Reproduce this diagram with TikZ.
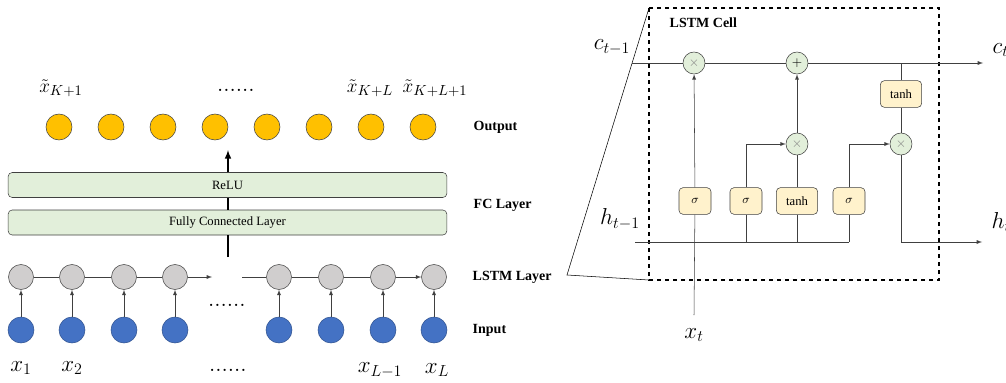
\documentclass[tikz,border=0pt]{standalone}
\usepackage{fontspec}
\setmainfont{Liberation Serif}
\usetikzlibrary{positioning}
\definecolor{outyellow}{HTML}{FFC000}
\definecolor{inblue}{HTML}{4472C4}
\definecolor{inblueline}{HTML}{2F528F}
\definecolor{cellgray}{HTML}{D0CECE}
\definecolor{fcgreen}{HTML}{E2EFDA}
\definecolor{gatecream}{HTML}{FFF2CC}
\definecolor{wire}{HTML}{404040}
\tikzset{
  outnode/.style={circle,minimum size=19.5pt,inner sep=0pt,draw=wire,fill=outyellow},
  lstmnode/.style={circle,minimum size=18.75pt,inner sep=0pt,draw=wire,fill=cellgray},
  innode/.style={circle,minimum size=19.5pt,inner sep=0pt,draw=inblueline,fill=inblue},
  layerbox/.style={minimum width=329pt,minimum height=18.75pt,rounded corners=3pt,draw=wire,fill=fcgreen,font=\fontsize{9.5}{11}\selectfont},
  gatebox/.style={minimum width=24pt,minimum height=20pt,inner sep=1pt,rounded corners=3pt,draw=wire,fill=gatecream,font=\fontsize{9.5}{11}\selectfont},
  opnode/.style={circle,minimum size=16.5pt,inner sep=0pt,draw=wire,fill=fcgreen},
  rowlabel/.style={anchor=west,font=\bfseries\fontsize{10.5}{12}\selectfont},
  mathlabel/.style={font=\fontsize{17}{20}\selectfont},
  toplabel/.style={inner sep=0pt,font=\fontsize{15}{18}\selectfont},
}
\begin{document}
\begin{tikzpicture}[x=0.75pt,y=-0.75pt]
\useasboundingbox (0,0) rectangle (1006,382);
% left: stacked network
\foreach \i/\x in {1/59,2/111,3/163,4/215,5/267,6/319,7/371,8/423}
  \node (out\i) at (\x,127) [outnode] {};
\foreach \i/\x in {1/21,2/72,3/124,4/175,5/279,6/331,7/383,8/434} {
  \node (ls\i) at (\x,277) [lstmnode] {};
  \node (in\i) at (\x,330) [innode] {};
  \draw[-latex,wire] (in\i) -- (ls\i);
}
\node (relu) at (227.5,185) [layerbox] {ReLU};
\node (fc) at (227.5,222.5) [layerbox] {Fully Connected Layer};
\node (tx1) at (61,88) [toplabel] {$\tilde{x}_{K+1}$};
\node (tdots) at (236,90) [mathlabel] {$......$};
\node (tx2) at (370,88) [toplabel] {$\tilde{x}_{K+L}$};
\node (tx3) at (435,88) [toplabel] {$\tilde{x}_{K+L+1}$};
\node (lx1) at (21,368) [mathlabel] {$x_1$};
\node (lx2) at (72,368) [mathlabel] {$x_2$};
\node (ldots) at (228,370) [mathlabel] {$......$};
\node (lx3) at (380,370) [mathlabel] {$x_{L-1}$};
\node (lx4) at (437,370) [mathlabel] {$x_L$};
\node (mdots) at (227,305) [mathlabel] {$......$};
\node (lout) at (469,127) [rowlabel] {Output};
\node (lfc) at (469,205) [rowlabel] {FC Layer};
\node (llstm) at (468,277) [rowlabel] {LSTM Layer};
\node (lin) at (468,330) [rowlabel] {Input};
\draw[wire] (ls1) -- (ls2);
\draw[wire] (ls2) -- (ls3);
\draw[wire] (ls3) -- (ls4);
\coordinate (gapa) at (212,277);
\coordinate (gapb) at (242,277);
\draw[-latex,wire] (ls4) -- (gapa);
\draw[wire] (gapb) -- (ls5);
\draw[wire] (ls5) -- (ls6);
\draw[wire] (ls6) -- (ls7);
\draw[-latex,wire] (ls7) -- (ls8);
\coordinate (fcin) at (228,257);
\coordinate (fcout) at (228,150);
\draw[line width=1.2pt] (fcin) -- (fc.south -| fcin);
\draw[line width=1.2pt] (fc.north -| fcin) -- (relu.south -| fcin);
\draw[-latex,line width=1.2pt] (relu.north -| fcin) -- (fcout);
% right: one LSTM cell
\draw[dashed,line width=0.9pt] (649,8) rectangle (939,280);
\draw (649,8) -- (567,275) -- (649,280);
\node (cell) at (665,23) [anchor=west,font=\bfseries\fontsize{10.5}{12}\selectfont] {LSTM Cell};
\node (m1) at (694,63) [opnode] {\color{gray}$\times$};
\node (add) at (797,63) [opnode] {$+$};
\node (m2) at (797,144) [opnode] {\color{gray}$\times$};
\node (m3) at (901,144) [opnode] {\color{gray}$\times$};
\node (g1) at (695,201) [gatebox] {$\sigma$};
\node (g2) at (746,201) [gatebox] {$\sigma$};
\node (g3) at (797,201) [gatebox,minimum width=31pt] {tanh};
\node (g4) at (849,201) [gatebox] {$\sigma$};
\node (ct) at (901,94) [gatebox,minimum width=31pt] {tanh};
\coordinate (cin) at (632,63);
\coordinate (cout) at (983,63);
\coordinate (hin) at (635,242);
\coordinate (hout) at (982,242);
\coordinate (xin) at (694,315);
\node (lc0) at (612,47) [mathlabel] {$c_{t-1}$};
\node (lc1) at (988,50) [mathlabel,anchor=west] {$c_t$};
\node (lh0) at (620,219) [mathlabel] {$h_{t-1}$};
\node (lh1) at (987,222) [mathlabel,anchor=west] {$h_t$};
\node (lxt) at (694,335) [mathlabel] {$x_t$};
\draw[wire] (cin) -- (m1);
\draw[wire] (m1) -- (add);
\draw[-latex,wire] (add) -- (cout);
\draw[wire] (ct |- add) -- (ct);
\draw[wire] (ct) -- (m3);
\draw[-latex,wire] (m3) |- (hout);
\draw[wire] (xin) -- (g1);
\draw[-latex,wire] (g1) -- (m1);
\draw[wire] (hin) -- (g4 |- hin);
\draw[wire] (g2) -- (g2 |- hin);
\draw[wire] (g3) -- (g3 |- hin);
\draw[wire] (g4) -- (g4 |- hin);
\draw[-latex,wire] (g2) |- (m2);
\draw[wire] (g3) -- (m2);
\draw[-latex,wire] (m2) -- (add);
\draw[-latex,wire] (g4) |- (m3);
\end{tikzpicture}
\end{document}
